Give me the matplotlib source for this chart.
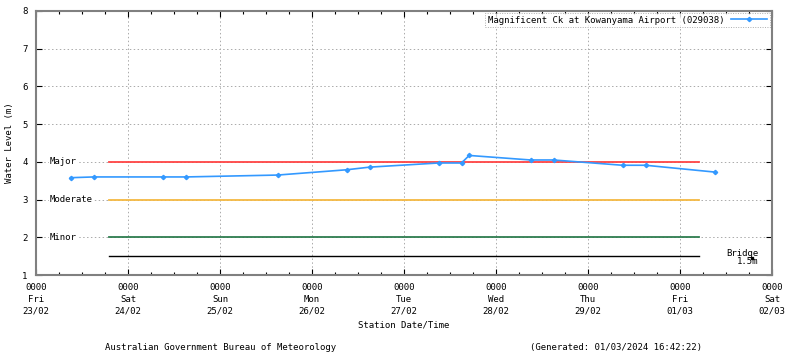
import pandas as pd
import matplotlib
matplotlib.use("Agg")
import matplotlib.pyplot as plt
import matplotlib.dates as mdates

# 讀圖估計的水位資料
obs_time = ["2024-02-23 09:00", "2024-02-23 15:00", "2024-02-24 09:00", "2024-02-24 15:00",
            "2024-02-25 15:00", "2024-02-26 09:00", "2024-02-26 15:00", "2024-02-27 09:00",
            "2024-02-27 15:00", "2024-02-27 17:00", "2024-02-28 09:00", "2024-02-28 15:00",
            "2024-02-29 09:00", "2024-02-29 15:00", "2024-03-01 09:00"]
obs_level = [3.58, 3.60, 3.60, 3.60, 3.65, 3.79, 3.86, 3.97, 3.97, 4.17, 4.05, 4.05, 3.91, 3.91, 3.73]

# 警戒線
flood_names = ["Major", "Moderate", "Minor"]
flood_levels = [4.0, 3.0, 2.0]
flood_colors = ["#ff4444", "#f5b942", "#2e7d4f"]
bridge_level = 1.5
line_start = "2024-02-23 19:00"
line_end = "2024-03-01 05:00"

x_start = "2024-02-23 00:00"
x_end = "2024-03-02 00:00"
station = "Magnificent Ck at Kowanyama Airport (029038)"

plt.rcParams["font.family"] = ["DejaVu Sans Mono"]
plt.rcParams["font.size"] = 6.5

fig = plt.figure(figsize=(8, 3.58), dpi=100)
ax = fig.add_axes([0.045, 0.2318, 0.92, 0.7375])

t = pd.to_datetime(obs_time)
ls, le = pd.Timestamp(line_start), pd.Timestamp(line_end)

# 格線
ax.grid(True, which="major", color="#aaaaaa", linestyle=(0, (1.5, 2.5)), linewidth=0.7)
ax.set_axisbelow(True)

for name, lv, c in zip(flood_names, flood_levels, flood_colors):
    ax.plot([ls, le], [lv, lv], color=c, linewidth=1.3, zorder=2)
    ax.text(pd.Timestamp("2024-02-23 03:30"), lv, name, va="center", ha="left", zorder=3,
            bbox=dict(facecolor="white", edgecolor="none", pad=0.5))
ax.plot([ls, le], [bridge_level, bridge_level], color="black", linewidth=1.0, zorder=2)
ax.text(pd.Timestamp("2024-03-01 20:30"), 1.56, "Bridge", ha="right", va="center")
ax.text(pd.Timestamp("2024-03-01 20:30"), 1.35, "1.5m", ha="right", va="center")
ax.plot([pd.Timestamp("2024-03-01 18:40")], [1.46], marker="s", color="black", ms=2,
        zorder=5)

ax.plot(t, obs_level, color="#3399ff", linewidth=1.2, marker="D", ms=2.2, zorder=4,
        label=station)

ax.set_xlim(pd.Timestamp(x_start), pd.Timestamp(x_end))
ax.set_ylim(1, 8)
ax.set_yticks(range(1, 9))
ax.xaxis.set_major_locator(mdates.DayLocator())
ax.xaxis.set_minor_locator(mdates.HourLocator(byhour=[6, 12, 18]))
ax.xaxis.set_major_formatter(mdates.DateFormatter("%H%M\n%a\n%d/%m"))
ax.tick_params(which="both", direction="in", top=True, right=True, color="black")
ax.tick_params(which="major", length=4, width=0.8, pad=6)
ax.tick_params(which="minor", length=2, width=0.8)
for lab in ax.get_xticklabels():
    lab.set_linespacing(1.35)

for s in ax.spines.values():
    s.set_color("#808080")
    s.set_linewidth(1.5)

ax.set_xlabel("Station Date/Time", labelpad=4)
ax.set_ylabel("Water Level (m)", labelpad=6)

leg = ax.legend(loc="upper right", handlelength=4, borderaxespad=0.2, borderpad=0.3,
                fancybox=False, markerfirst=False, handletextpad=0.8)
leg.get_frame().set_edgecolor("#999999")
leg.get_frame().set_linestyle((0, (1, 1.5)))
leg.get_frame().set_linewidth(0.7)

fig.text(0.1315, 0.022, "Australian Government Bureau of Meteorology", ha="left")
fig.text(0.662, 0.022, "(Generated: 01/03/2024 16:42:22)", ha="left")

fig.savefig("out.png", dpi=100)
